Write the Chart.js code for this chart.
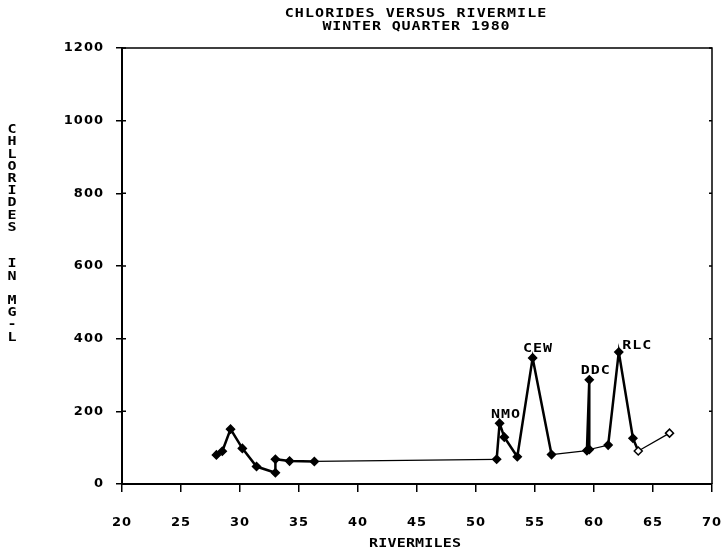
<!DOCTYPE html>
<html>
<head>
<meta charset="utf-8">
<title>Chlorides versus Rivermile</title>
<script src="https://cdn.jsdelivr.net/npm/chart.js@4"></script>
<style>
  html, body { margin: 0; padding: 0; background: #fff; }
  #wrap { width: 722px; height: 556px; }
</style>
</head>
<body>
<div id="wrap"><canvas id="chlorideChart" width="722" height="556"></canvas></div>
<script>
// sample points (river mile, chlorides mg/l)
const riverMiles = [28.0, 28.5, 29.2, 30.2, 31.4, 33.0, 33.0, 34.2, 36.3, 51.75, 52.0, 52.4, 53.5, 54.8, 56.4, 59.4, 59.6, 59.6, 61.2, 62.1, 63.3, 63.75, 66.4];
const chlorides  = [80, 90, 151, 98, 48, 31, 68, 63, 62, 68, 167, 129, 75, 347, 81, 92, 287, 95, 107, 363, 126, 91, 140];
const siteLabels = ["", "", "", "", "", "", "", "", "", "", "NMO", "", "", "CEW", "", "", "DDC", "", "", "RLC", "", "", ""];

const xTickValues = [20, 25, 30, 35, 40, 45, 50, 55, 60, 65, 70];
const yTickValues = [0, 200, 400, 600, 800, 1000, 1200];

const titleLines = ["CHLORIDES VERSUS RIVERMILE", "WINTER QUARTER 1980"];
const xAxisTitle = "RIVERMILES";
const yAxisTitle = "CHLORIDES  IN MG-L";

// styling only
const thinSegments = [8, 14, 17, 21];
const hollowPoints = [21, 22];
const labelOffsets = { NMO: [6, -8], CEW: [5, -9], DDC: [6, -9], RLC: [18, -6] };
const tickFont = "'DejaVu Sans', sans-serif";
const letterFont = "bold 12px 'DejaVu Sans Mono', monospace";

// plotter style lettering: fixed pitch, glyphs stretched a little wider
function drawChar(ctx, ch, x, y) {
  ctx.save();
  ctx.translate(x, y);
  ctx.scale(1.25, 1);
  ctx.fillText(ch, 0, 0);
  ctx.restore();
}

function drawSpaced(ctx, text, cx, cy, pitch) {
  const start = cx - pitch * (text.length - 1) / 2;
  for (let i = 0; i < text.length; i++) {
    drawChar(ctx, text[i], start + i * pitch, cy);
  }
}

const plotterText = {
  id: "plotterText",
  beforeDraw(chart) {
    chart.ctx.letterSpacing = "1px";
  },
  afterDraw(chart) {
    const ctx = chart.ctx;
    const area = chart.chartArea;
    const xs = chart.scales.x;
    const ys = chart.scales.y;
    ctx.save();
    ctx.letterSpacing = "0px";
    ctx.fillStyle = "#000";
    ctx.strokeStyle = "#000";

    // frame
    ctx.lineWidth = 1.5;
    ctx.beginPath();
    ctx.moveTo(area.left, area.top);
    ctx.lineTo(area.right, area.top);
    ctx.lineTo(area.right, area.bottom);
    ctx.stroke();

    // inner ticks
    yTickValues.forEach((v) => {
      const py = ys.getPixelForValue(v);
      ctx.beginPath();
      ctx.moveTo(area.left, py);
      ctx.lineTo(area.left + 4, py);
      ctx.moveTo(area.right, py);
      ctx.lineTo(area.right - 3, py);
      ctx.stroke();
    });

    ctx.textAlign = "center";
    ctx.textBaseline = "middle";
    ctx.font = letterFont;

    // title
    drawSpaced(ctx, titleLines[0], 415.5, 14, 10.1);
    drawSpaced(ctx, titleLines[1], 416, 27, 9.9);

    // axis titles
    drawSpaced(ctx, xAxisTitle, 415, 544, 9.2);
    for (let i = 0; i < yAxisTitle.length; i++) {
      drawChar(ctx, yAxisTitle[i], 12, 130 + i * 12.2);
    }

    // site labels
    siteLabels.forEach((name, i) => {
      if (!name) return;
      const off = labelOffsets[name];
      const px = xs.getPixelForValue(riverMiles[i]) + off[0];
      const py = ys.getPixelForValue(chlorides[i]) + off[1];
      drawSpaced(ctx, name, px, py, 10);
    });
    ctx.restore();
  },
};

const ctx = document.getElementById("chlorideChart").getContext("2d");

new Chart(ctx, {
  type: "line",
  data: {
    datasets: [
      {
        data: riverMiles.map((x, i) => ({ x: x, y: chlorides[i] })),
        borderColor: "#000",
        borderWidth: 2.5,
        tension: 0,
        pointStyle: "rectRot",
        pointRadius: 4,
        pointBorderWidth: 1.5,
        pointBorderColor: "#000",
        pointBackgroundColor: (c) => (hollowPoints.includes(c.dataIndex) ? "#fff" : "#000"),
        segment: {
          borderWidth: (c) => (thinSegments.includes(c.p0DataIndex) ? 1.2 : 2.5),
        },
      },
    ],
  },
  options: {
    responsive: false,
    animation: false,
    layout: { padding: { top: 48, right: 10, left: 0, bottom: 0 } },
    plugins: {
      legend: { display: false },
      tooltip: { enabled: false },
      title: { display: false },
    },
    scales: {
      x: {
        type: "linear",
        min: 20,
        max: 70,
        afterFit: (scale) => {
          scale.height = 72;
          scale.paddingLeft = 0;
          scale.paddingRight = 0;
        },
        afterBuildTicks: (scale) => { scale.ticks = xTickValues.map((v) => ({ value: v })); },
        border: { display: true, color: "#000", width: 2 },
        grid: { drawOnChartArea: false, drawTicks: true, tickLength: 8, color: "#000", lineWidth: 1.5 },
        ticks: {
          autoSkip: false,
          maxRotation: 0,
          padding: 23,
          color: "#000",
          callback: (v) => String(v),
          font: { family: tickFont, size: 13, weight: "bold" },
        },
      },
      y: {
        min: 0,
        max: 1200,
        afterFit: (scale) => {
          scale.width = 122;
          scale.paddingTop = 0;
          scale.paddingBottom = 0;
        },
        afterBuildTicks: (scale) => { scale.ticks = yTickValues.map((v) => ({ value: v })); },
        border: { display: true, color: "#000", width: 2 },
        grid: { drawOnChartArea: false, drawTicks: true, tickLength: 6, color: "#000", lineWidth: 1.5 },
        ticks: {
          padding: 12,
          color: "#000",
          callback: (v) => String(v),
          font: { family: tickFont, size: 13, weight: "bold" },
        },
      },
    },
  },
  plugins: [plotterText],
});
</script>
</body>
</html>
